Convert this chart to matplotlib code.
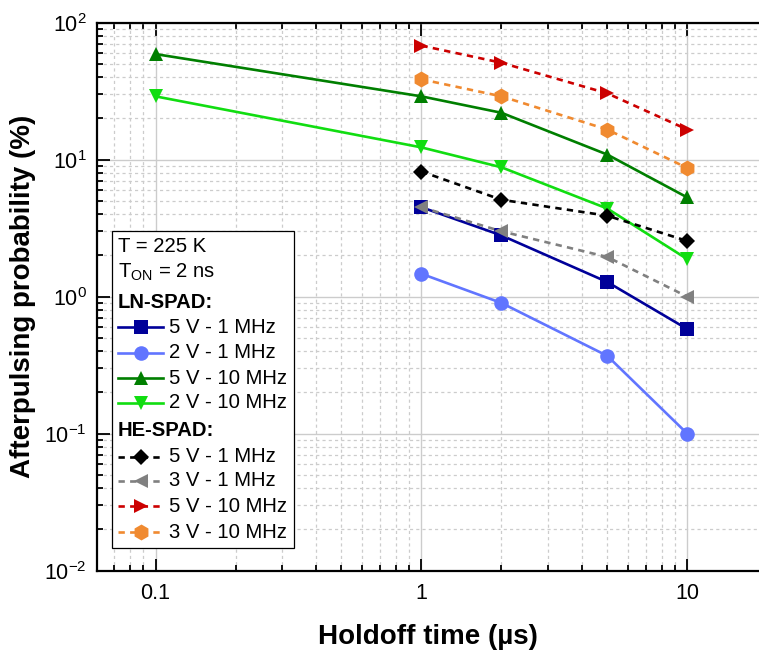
import matplotlib
matplotlib.use("Agg")
import matplotlib.pyplot as plt
from matplotlib.lines import Line2D
from matplotlib.patches import Rectangle
from matplotlib.ticker import LogLocator, NullFormatter, FixedLocator, FixedFormatter

plt.rcParams['font.family'] = ['Liberation Sans', 'DejaVu Sans']
plt.rcParams['mathtext.default'] = 'regular'

# holdoff times (us)
holdoff_10mhz_ln = [0.1, 1, 2, 5, 10]
holdoff_std = [1, 2, 5, 10]

# afterpulsing probability (%)
ln_5v_1mhz = [4.5, 2.8, 1.28, 0.58]
ln_2v_1mhz = [1.47, 0.90, 0.37, 0.10]
ln_5v_10mhz = [59, 29, 22, 10.9, 5.3]
ln_2v_10mhz = [29, 12.3, 8.8, 4.4, 1.88]
he_5v_1mhz = [8.2, 5.1, 3.9, 2.55]
he_3v_1mhz = [4.5, 3.0, 1.95, 1.0]
he_5v_10mhz = [68, 51, 30.5, 16.6]
he_3v_10mhz = [38.6, 29, 16.6, 8.7]

ln_labels = ['5 V - 1 MHz', '2 V - 1 MHz', '5 V - 10 MHz', '2 V - 10 MHz']
he_labels = ['5 V - 1 MHz', '3 V - 1 MHz', '5 V - 10 MHz', '3 V - 10 MHz']

W, H = 759, 651
fig = plt.figure(figsize=(W / 100, H / 100), dpi=100)
ax = fig.add_axes([96.7 / W, 1 - 570.7 / H, (W - 96.7) / W, 548 / H])

# (x, y, color, marker, linestyle)
ln_series = [
    (holdoff_std, ln_5v_1mhz, '#000099', 's', '-'),
    (holdoff_std, ln_2v_1mhz, '#6175FF', 'o', '-'),
    (holdoff_10mhz_ln, ln_5v_10mhz, '#007F00', '^', '-'),
    (holdoff_10mhz_ln, ln_2v_10mhz, '#11DD11', 'v', '-'),
]
he_series = [
    (holdoff_std, he_5v_1mhz, '#000000', 'D', '--'),
    (holdoff_std, he_3v_1mhz, '#808080', '<', '--'),
    (holdoff_std, he_5v_10mhz, '#CC0000', '>', '--'),
    (holdoff_std, he_3v_10mhz, '#F08A30', 'h', '--'),
]

msize = {'s': 9.5, 'o': 10.5, '^': 10.5, 'v': 10.5, 'D': 8.5, '<': 10.5, '>': 10.5, 'h': 11.5}


def style(color, marker, ls):
    kw = dict(color=color, marker=marker, markersize=msize[marker], lw=1.9,
              markeredgewidth=0, linestyle=ls)
    if ls == '--':
        kw['dashes'] = (2.4, 2.0)
    return kw


for x, y, c, m, ls in ln_series + he_series:
    ax.plot(x, y, zorder=3, **style(c, m, ls))

ax.set_xscale('log')
ax.set_yscale('log')
ax.set_xlim(0.0601, 18.6)
ax.set_ylim(0.01, 100)

ax.xaxis.set_major_locator(FixedLocator([0.1, 1, 10]))
ax.xaxis.set_major_formatter(FixedFormatter(['0.1', '1', '10']))
ax.xaxis.set_minor_locator(LogLocator(base=10, subs=range(2, 10), numticks=20))
ax.xaxis.set_minor_formatter(NullFormatter())
ax.yaxis.set_major_locator(LogLocator(base=10, numticks=10))
ax.yaxis.set_minor_locator(LogLocator(base=10, subs=range(2, 10), numticks=20))
ax.yaxis.set_minor_formatter(NullFormatter())

ax.grid(True, which='major', color='#cccccc', lw=1.0, ls='-', zorder=0)
ax.grid(True, which='minor', color='#cccccc', lw=0.9, ls=(0, (2.5, 2.5)), zorder=0)
ax.set_axisbelow(True)

ax.tick_params(which='both', direction='in', top=True, right=False, width=1.3,
               labelsize=15.5)
ax.tick_params(which='major', length=9)
ax.tick_params(which='minor', length=4.5)
ax.tick_params(axis='x', pad=9)
ax.tick_params(axis='y', pad=7)
for side in ['left', 'bottom', 'top']:
    ax.spines[side].set_linewidth(1.6)
ax.spines['right'].set_visible(False)

ax.set_xlabel('Holdoff time (\u00b5s)', fontsize=20, fontweight='bold', labelpad=14)
ax.set_ylabel('Afterpulsing probability (%)', fontsize=20, fontweight='bold', labelpad=6)


# legend box, drawn by hand so the header rows sit flush left
def fx(px):
    return px / W


def fy(py):
    return 1 - py / H


box = Rectangle((fx(112), fy(548)), (294 - 112) / W, (548 - 231) / H,
                transform=fig.transFigure, facecolor='white', edgecolor='black',
                lw=0.9, zorder=5)
fig.add_artist(box)

fs = 14.6
fig.text(fx(118), fy(247), 'T = 225 K', fontsize=fs, va='center', zorder=6)
fig.text(fx(118), fy(272), 'T$_{ON}$ = 2 ns', fontsize=fs, va='center', zorder=6)
fig.text(fx(118), fy(302), 'LN-SPAD:', fontsize=fs, fontweight='bold', va='center', zorder=6)
fig.text(fx(118), fy(430), 'HE-SPAD:', fontsize=fs, fontweight='bold', va='center', zorder=6)

rows_ln = [327, 353, 378, 403]
rows_he = [457, 481, 506, 532]
entries = list(zip(ln_series, ln_labels, rows_ln)) + list(zip(he_series, he_labels, rows_he))
for (x, y, c, m, ls), label, row in entries:
    kw = style(c, m, ls)
    kw.pop('marker')
    ms = kw.pop('markersize')
    fig.add_artist(Line2D([fx(118), fx(163)], [fy(row), fy(row)],
                          transform=fig.transFigure, zorder=6, **kw))
    fig.add_artist(Line2D([fx(140.5)], [fy(row)], transform=fig.transFigure,
                          marker=m, markersize=ms, color=c, markeredgewidth=0,
                          linestyle='none', zorder=7))
    fig.text(fx(169), fy(row), label, fontsize=fs, va='center', zorder=6)

fig.savefig('out.png', dpi=100)
